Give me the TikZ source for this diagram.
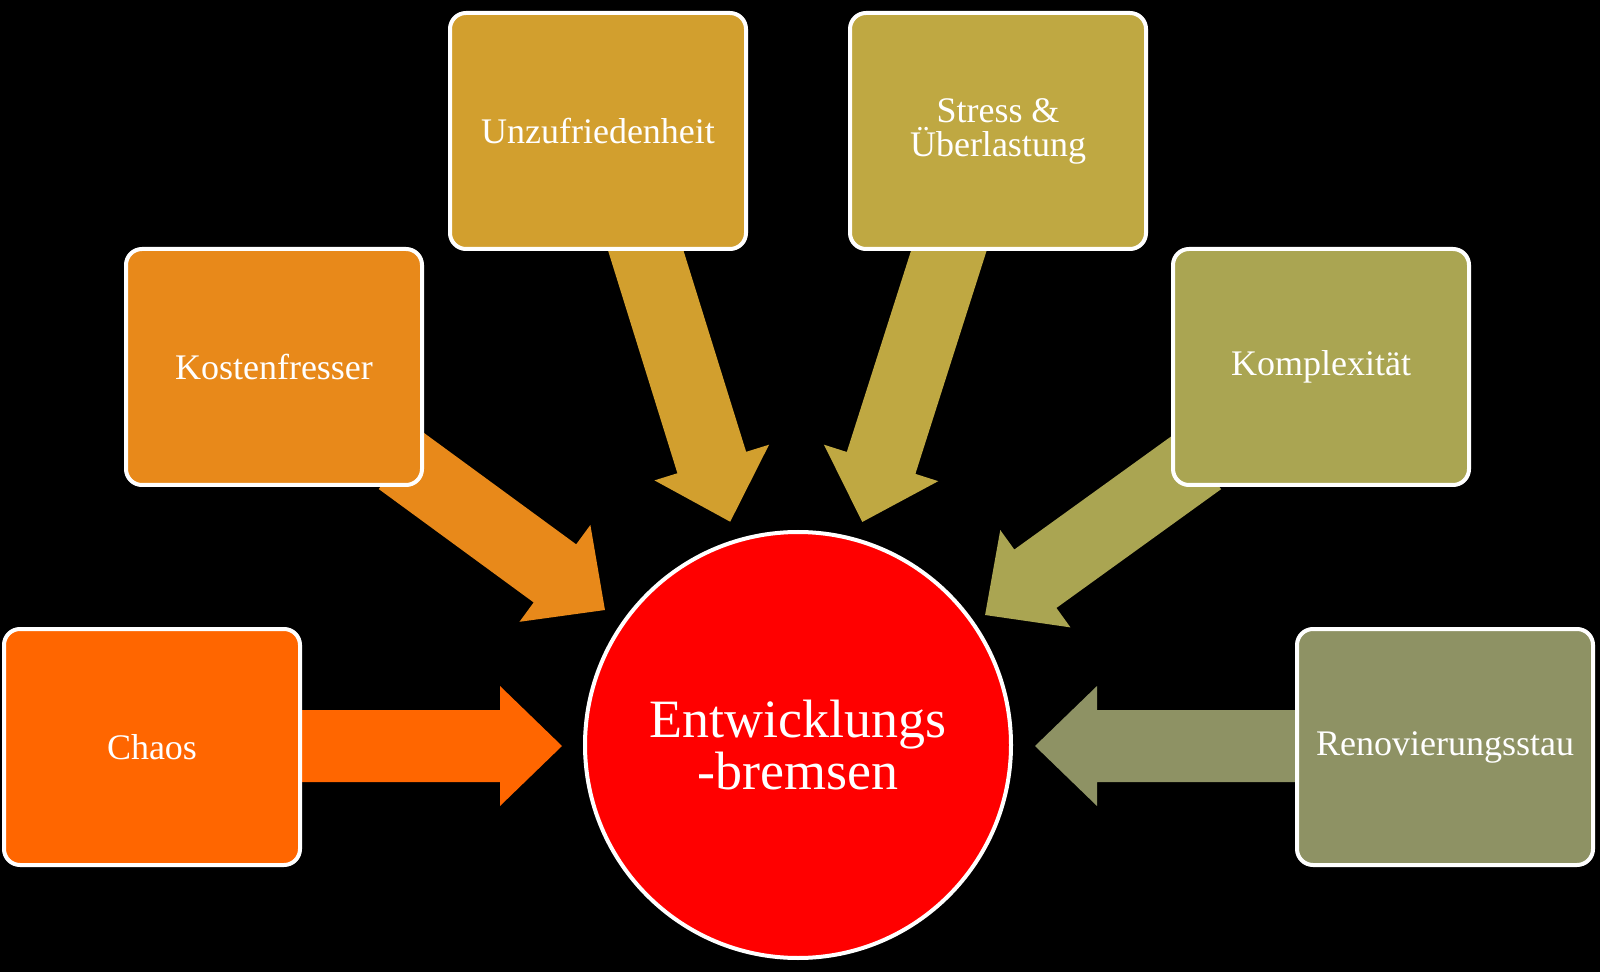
\documentclass[tikz,border=0pt]{standalone}
\usepackage{fontspec}
\setmainfont{Liberation Serif}
\definecolor{cChaos}{HTML}{FF6600}
\definecolor{cKost}{HTML}{E8891A}
\definecolor{cUnz}{HTML}{D29F2E}
\definecolor{cStr}{HTML}{BFA842}
\definecolor{cKom}{HTML}{AAA552}
\definecolor{cRen}{HTML}{8E9264}
% #1 x, #2 y (px), #3 angle, #4 length, #5 colour
\newcommand\blockarrow[5]{%
  \begin{scope}[shift={(#1,#2)},rotate=#3]
    \fill[#5] (0,-36) -- ({#4-62},-36) -- ({#4-62},-60) -- (#4,0) -- ({#4-62},60) -- ({#4-62},36) -- (0,36) -- cycle;
  \end{scope}}
\begin{document}
\begin{tikzpicture}[x=0.5pt,y=-0.5pt,
  box/.style={draw=white,line width=2pt,rounded corners=8pt,minimum width=148pt,minimum height=118pt,text=white,font=\fontsize{18}{17}\selectfont,align=center,inner sep=1pt}]
\fill[black] (0,0) rectangle (1600,972);
\blockarrow{250}{746}{0}{312}{cChaos}
\blockarrow{1340}{746}{180}{305}{cRen}
\blockarrow{400}{460}{-36.2}{254}{cKost}
\blockarrow{630}{200}{-72.7}{337}{cUnz}
\blockarrow{965}{200}{-107.7}{338}{cStr}
\blockarrow{1200}{460}{-144.2}{265}{cKom}
\node[box,fill=cChaos] (chaos) at (152,747) {Chaos};
\node[box,fill=cKost] (kost) at (274,367) {Kostenfresser};
\node[box,fill=cUnz] (unz) at (598,131) {Unzufriedenheit};
\node[box,fill=cStr] (str) at (998,131) {Stress \&\\Überlastung};
\node[box,fill=cKom] (kom) at (1321,367) {Komplexität};
\node[box,fill=cRen] (ren) at (1445,747) {Renovierungsstau};
\node[circle,draw=white,line width=2pt,fill=red,minimum size=213pt,text=white,align=center,font=\fontsize{27}{26}\selectfont] (c) at (798,745) {Entwicklungs\\-bremsen};
\end{tikzpicture}
\end{document}
